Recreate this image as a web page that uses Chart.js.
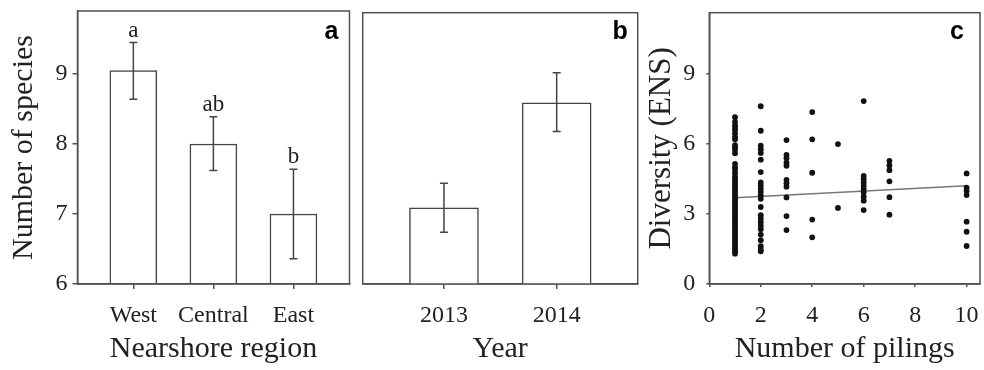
<!DOCTYPE html>
<html><head><meta charset="utf-8">
<script src="https://cdn.jsdelivr.net/npm/chart.js@4.4.1/dist/chart.umd.min.js"></script>
<style>
html,body{margin:0;padding:0;background:#fff;width:984px;height:370px;overflow:hidden;position:relative}
canvas{position:absolute;top:0}
#ca{left:0}#cb{left:352px}#cc{left:640px}
</style></head><body>
<canvas id="ca" width="352" height="370"></canvas>
<canvas id="cb" width="288" height="370"></canvas>
<canvas id="cc" width="344" height="370"></canvas>
<script>
// ---------- data ----------
const regions = ['West', 'Central', 'East'];
const speciesMean = [9.05, 8.00, 7.00];
const speciesErrHigh = [9.45, 8.39, 7.64];
const speciesErrLow = [8.64, 7.62, 6.36];
const sigLetters = ['a', 'ab', 'b'];
const speciesTicks = [6, 7, 8, 9];

const years = ['2013', '2014'];
const yearMean = [7.09, 8.59];
const yearErrHigh = [7.44, 9.02];
const yearErrLow = [6.74, 8.18];

const pilingTicks = [0, 2, 4, 6, 8, 10];
const diversityTicks = [0, 3, 6, 9];
const div1 = [7.15, 6.95, 6.8, 6.7, 6.6, 6.45, 6.3, 6.2, 5.95, 5.85, 5.75, 5.6, 5.15, 5.0, 4.9, 4.75, 4.6, 4.5, 4.4, 4.3, 4.2, 4.1, 4.0, 3.9, 3.8, 3.7, 3.6, 3.5, 3.4, 3.3, 3.2, 3.1, 3.0, 2.9, 2.8, 2.7, 2.6, 2.5, 2.4, 2.3, 2.2, 2.1, 2.0, 1.9, 1.8, 1.7, 1.6, 1.5, 1.4, 1.3];
const div2 = [7.62, 6.57, 5.93, 5.78, 5.62, 5.33, 4.8, 4.35, 4.22, 4.08, 3.95, 3.8, 3.65, 3.3, 2.95, 2.8, 2.65, 2.5, 2.35, 2.12, 1.88, 1.62, 1.48, 1.4];
const div3 = [6.17, 5.53, 5.39, 5.2, 5.07, 4.46, 4.32, 4.17, 3.71, 2.91, 2.31];
const div4 = [7.37, 6.2, 4.77, 2.76, 2.0];
const div5 = [6.0, 3.26];
const div6 = [7.84, 4.63, 4.49, 4.34, 4.2, 4.06, 3.92, 3.74, 3.57, 3.17];
const div7 = [5.28, 5.08, 4.88, 4.4, 3.72, 2.97];
const div10 = [4.74, 4.13, 3.99, 3.81, 2.67, 2.24, 1.63];
const fitX = [1, 10];
const fitY = [3.70, 4.21];

// ---------- styles ----------
const SERIF = "'Liberation Serif', 'Times New Roman', serif";
const TXT = '#222';
const LINE = '#505050';
Chart.defaults.font.family = SERIF;
Chart.defaults.color = TXT;
Chart.defaults.animation = false;

const framePlugin = {
  id: 'frame',
  afterDatasetsDraw(chart) {
    const { ctx, chartArea: a } = chart;
    ctx.save();
    ctx.strokeStyle = LINE; ctx.lineWidth = 1.5;
    ctx.strokeRect(a.left, a.top, a.right - a.left, a.bottom - a.top);
    ctx.restore();
  }
};
const errPlugin = {
  id: 'errbars',
  afterDatasetsDraw(chart, args, o) {
    if (!o || !o.high) return;
    const { ctx } = chart; const xs = chart.scales.x, ys = chart.scales.y;
    ctx.save();
    ctx.strokeStyle = '#444'; ctx.lineWidth = 1.5;
    o.high.forEach((h, i) => {
      const x = xs.getPixelForValue(i), yh = ys.getPixelForValue(h), yl = ys.getPixelForValue(o.low[i]);
      ctx.beginPath();
      ctx.moveTo(x, yh); ctx.lineTo(x, yl);
      ctx.moveTo(x - 4, yh); ctx.lineTo(x + 4, yh);
      ctx.moveTo(x - 4, yl); ctx.lineTo(x + 4, yl);
      ctx.stroke();
      if (o.letters) {
        ctx.fillStyle = TXT; ctx.font = '23px ' + SERIF;
        ctx.textAlign = 'center'; ctx.textBaseline = 'alphabetic';
        ctx.fillText(o.letters[i], x, yh - 6);
      }
    });
    ctx.restore();
  }
};
const tagPlugin = {
  id: 'tag',
  afterDraw(chart, args, o) {
    if (!o || !o.text) return;
    const { ctx, chartArea: a } = chart;
    ctx.save();
    ctx.fillStyle = '#000'; ctx.font = "bold 25px 'Liberation Sans', Arial, sans-serif";
    ctx.textAlign = 'right'; ctx.textBaseline = 'alphabetic';
    ctx.fillText(o.text, a.right - o.dx, 39);
    ctx.restore();
  }
};

function tickGrid(len) {
  return { display: true, drawOnChartArea: false, drawTicks: true, tickLength: len, color: LINE, lineWidth: 1.5, offset: false };
}
function fixY(w) { return s => { s.width = w; s.paddingTop = 0; s.paddingBottom = 0; }; }
function fixX(h) { return s => { s.height = h; s.paddingLeft = 0; s.paddingRight = 0; }; }

// ---------- panel a ----------
new Chart(document.getElementById('ca'), {
  type: 'bar',
  data: {
    datasets: [{
      data: regions.map((r, i) => ({ x: i, y: speciesMean[i] })),
      backgroundColor: '#fff', borderColor: '#444', borderWidth: 1.5,
      barThickness: 47, base: 6
    }]
  },
  options: {
    responsive: false,
    layout: { padding: { left: 0, right: 2.5, top: 11, bottom: 0 } },
    plugins: { legend: { display: false }, tooltip: { enabled: false },
      errbars: { high: speciesErrHigh, low: speciesErrLow, letters: sigLetters },
      tag: { text: 'a', dx: 11 } },
    scales: {
      x: { type: 'linear', min: -0.6975, max: 2.70, offset: false,
        afterBuildTicks: s => { s.ticks = regions.map((r, i) => ({ value: i })); },
        afterFit: fixX(86),
        ticks: { callback: v => regions[v], font: { size: 24 }, padding: 12, maxRotation: 0, autoSkip: false },
        grid: tickGrid(5), border: { display: true, color: LINE, width: 1.5 },
        title: { display: true, text: 'Nearshore region', font: { size: 30 }, padding: { top: 0, bottom: 3 } } },
      y: { type: 'linear', min: 6, max: 9.9,
        afterBuildTicks: s => { s.ticks = speciesTicks.map(v => ({ value: v })); },
        afterFit: fixY(77.5),
        ticks: { font: { size: 24 }, padding: 5 },
        grid: tickGrid(5), border: { display: true, color: LINE, width: 1.5 },
        title: { display: true, text: 'Number of species', font: { size: 30 }, padding: { top: 6, bottom: 0 } } }
    }
  },
  plugins: [framePlugin, errPlugin, tagPlugin]
});

// ---------- panel b ----------
new Chart(document.getElementById('cb'), {
  type: 'bar',
  data: {
    datasets: [{
      data: years.map((r, i) => ({ x: i, y: yearMean[i] })),
      backgroundColor: '#fff', borderColor: '#444', borderWidth: 1.5,
      barThickness: 69, base: 6
    }]
  },
  options: {
    responsive: false,
    layout: { padding: { left: 10.7, right: 2.3, top: 12.7, bottom: 0 } },
    plugins: { legend: { display: false }, tooltip: { enabled: false },
      errbars: { high: yearErrHigh, low: yearErrLow },
      tag: { text: 'b', dx: 10 } },
    scales: {
      x: { type: 'linear', min: -0.721, max: 1.719, offset: false,
        afterBuildTicks: s => { s.ticks = years.map((r, i) => ({ value: i })); },
        afterFit: fixX(86),
        ticks: { callback: v => years[v], font: { size: 24 }, padding: 12, maxRotation: 0, autoSkip: false },
        grid: tickGrid(5), border: { display: true, color: LINE, width: 1.5 },
        title: { display: true, text: 'Year', font: { size: 30 }, padding: { top: 0, bottom: 3 } } },
      y: { type: 'linear', min: 6, max: 9.88, display: false }
    }
  },
  plugins: [framePlugin, errPlugin, tagPlugin]
});

// ---------- panel c ----------
const groups = [[1, div1], [2, div2], [3, div3], [4, div4], [5, div5], [6, div6], [7, div7], [10, div10]];
const points = [];
groups.forEach(([p, arr]) => arr.forEach(v => points.push({ x: p, y: v })));
new Chart(document.getElementById('cc'), {
  type: 'scatter',
  data: {
    datasets: [
      { data: points, backgroundColor: '#111', borderWidth: 0, pointRadius: 2.9 },
      { type: 'line', data: fitX.map((x, i) => ({ x, y: fitY[i] })), borderColor: '#777', borderWidth: 1.6,
        pointRadius: 0, fill: false, showLine: true }
    ]
  },
  options: {
    responsive: false,
    layout: { padding: { left: 0, right: 3, top: 12.7, bottom: 0 } },
    plugins: { legend: { display: false }, tooltip: { enabled: false },
      tag: { text: 'c', dx: 16 } },
    scales: {
      x: { type: 'linear', min: 0, max: 10.52,
        afterBuildTicks: s => { s.ticks = pilingTicks.map(v => ({ value: v })); },
        afterFit: fixX(86),
        ticks: { font: { size: 24 }, padding: 14, maxRotation: 0, autoSkip: false },
        grid: tickGrid(3), border: { display: true, color: LINE, width: 1.5 },
        title: { display: true, text: 'Number of pilings', font: { size: 30 }, padding: { top: 0, bottom: 3 } } },
      y: { type: 'linear', min: 0, max: 11.63,
        afterBuildTicks: s => { s.ticks = diversityTicks.map(v => ({ value: v })); },
        afterFit: fixY(69.3),
        ticks: { font: { size: 24 }, padding: 11 },
        grid: tickGrid(3), border: { display: true, color: LINE, width: 1.5 },
        title: { display: true, text: 'Diversity (ENS)', font: { size: 31 }, padding: { top: 3, bottom: 0 } } }
    }
  },
  plugins: [framePlugin, tagPlugin]
});
</script>
</body></html>
